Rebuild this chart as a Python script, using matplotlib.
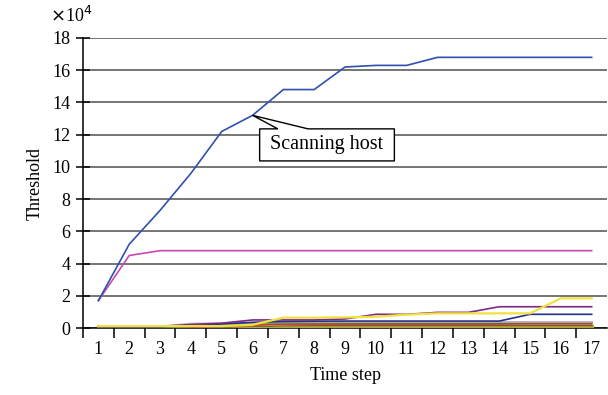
import matplotlib
matplotlib.use('Agg')
import matplotlib.pyplot as plt
from matplotlib.patches import Polygon
import numpy as np

plt.rcParams['font.family'] = ['Liberation Serif', 'DejaVu Serif']

# Time steps and thresholds (x 10^4)
steps = list(range(1, 18))
scanning_host = [1.7, 5.2, 7.3, 9.6, 12.2, 13.2, 14.8, 14.8, 16.2, 16.3, 16.3, 16.8, 16.8, 16.8, 16.8, 16.8, 16.8]
magenta_host = [1.7, 4.5, 4.8, 4.8, 4.8, 4.8, 4.8, 4.8, 4.8, 4.8, 4.8, 4.8, 4.8, 4.8, 4.8, 4.8, 4.8]
yellow_host = [0.12, 0.12, 0.12, 0.12, 0.12, 0.2, 0.64, 0.64, 0.66, 0.7, 0.83, 0.91, 0.91, 0.91, 0.91, 1.84, 1.84]
purple_host = [0.1, 0.1, 0.1, 0.22, 0.3, 0.5, 0.5, 0.5, 0.56, 0.85, 0.85, 0.97, 0.97, 1.32, 1.32, 1.32, 1.32]
navy_host = [0.08, 0.08, 0.08, 0.15, 0.25, 0.35, 0.4, 0.42, 0.43, 0.43, 0.43, 0.43, 0.43, 0.43, 0.85, 0.85, 0.85]
lavender_host = [0.1, 0.1, 0.1, 0.28, 0.3, 0.35, 0.38, 0.38, 0.38, 0.38, 0.38, 0.38, 0.38, 0.38, 0.38, 0.38, 0.38]
green_host = [0.05, 0.05, 0.05, 0.1, 0.2, 0.28, 0.33, 0.35, 0.36, 0.36, 0.36, 0.36, 0.36, 0.36, 0.38, 0.38, 0.38]
brown_host = [0.05, 0.05, 0.05, 0.08, 0.15, 0.22, 0.3, 0.3, 0.3, 0.3, 0.3, 0.3, 0.3, 0.3, 0.32, 0.32, 0.32]
red_host = [0.05, 0.05, 0.05, 0.08, 0.12, 0.18, 0.25, 0.25, 0.25, 0.25, 0.25, 0.25, 0.25, 0.25, 0.27, 0.27, 0.27]
salmon_host = [0.05, 0.05, 0.05, 0.06, 0.1, 0.15, 0.2, 0.22, 0.22, 0.22, 0.22, 0.22, 0.22, 0.22, 0.22, 0.22, 0.22]
dark_host = [0.05, 0.05, 0.05, 0.05, 0.08, 0.12, 0.16, 0.17, 0.17, 0.17, 0.17, 0.17, 0.17, 0.17, 0.17, 0.17, 0.17]
olive_host = [0.1, 0.1, 0.1, 0.1, 0.1, 0.1, 0.1, 0.1, 0.1, 0.1, 0.1, 0.1, 0.1, 0.1, 0.1, 0.1, 0.1]

low_series = [
    (olive_host, '#b0a838', 2.2),
    (dark_host, '#404020', 1.2),
    (salmon_host, '#e89a78', 1.2),
    (red_host, '#d03030', 1.2),
    (brown_host, '#8a5a20', 1.2),
    (green_host, '#78b040', 1.2),
    (lavender_host, '#b8b0dc', 1.2),
    (navy_host, '#26308a', 1.2),
    (purple_host, '#7a2a82', 1.2),
    (yellow_host, '#f0e040', 1.6),
]

fig = plt.figure(figsize=(6.08, 3.95), dpi=100)
ax = fig.add_axes([0.1365, 0.1696, 0.862, 0.7342])

for vals, col, lw in low_series:
    ax.plot(steps, vals, color=col, lw=lw, zorder=3)
ax.plot(steps, magenta_host, color='#c848b0', lw=1.2, zorder=4)
ax.plot(steps, scanning_host, color='#3050b0', lw=1.2, zorder=5)

ax.set_xlim(0.5, 17.5)
ax.set_ylim(0, 18)
ax.set_yticks(np.arange(0, 19, 2))
ax.yaxis.grid(True, color='#505050', lw=1.1)
ax.set_axisbelow(True)
for s in ['top', 'right']:
    ax.spines[s].set_visible(False)
ax.spines['left'].set_linewidth(1.1)
ax.spines['bottom'].set_linewidth(1.1)

ax.set_xticks(steps)
ax.set_xticks(np.arange(0.5, 17.0, 1.0), minor=True)
ax.tick_params(axis='x', which='major', length=0, pad=9, labelsize=13)
ax.tick_params(axis='x', which='minor', length=7, width=1.1, direction='out')
ax.tick_params(axis='y', direction='inout', length=10, width=1.1, labelsize=13, pad=4)

ax.set_xlabel('Time step', fontsize=13, labelpad=7)
ax.set_ylabel('Threshold', fontsize=13, labelpad=6)
fig.text(0.083, 0.985, r'$\times$10$^4$', fontsize=13, va='top', ha='left')

# callout box pointing to the scanning host curve
tip = (steps[5], scanning_host[5])
bx0, bx1, by0, by1 = 6.23, 10.6, 10.37, 12.36
callout = Polygon([(bx0, by1), (6.82, by1), tip, (7.8, by1), (bx1, by1), (bx1, by0), (bx0, by0)],
                  closed=True, facecolor='white', edgecolor='black', lw=1.0, zorder=6)
ax.add_patch(callout)
ax.text((bx0 + bx1) / 2, (by0 + by1) / 2, 'Scanning host', ha='center', va='center',
        fontsize=14.5, zorder=7)

fig.savefig('out.png', dpi=100)
